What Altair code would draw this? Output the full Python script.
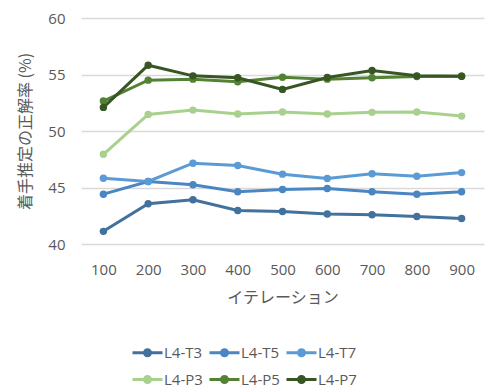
import altair as alt
import pandas as pd

iterations = [100, 200, 300, 400, 500, 600, 700, 800, 900]
series_names = ["L4-T3", "L4-T5", "L4-T7", "L4-P3", "L4-P5", "L4-P7"]
t3 = [41.12, 43.56, 43.91, 42.97, 42.88, 42.65, 42.59, 42.44, 42.26]
t5 = [44.41, 45.53, 45.24, 44.62, 44.82, 44.91, 44.62, 44.41, 44.62]
t7 = [45.82, 45.53, 47.15, 46.94, 46.18, 45.79, 46.21, 46.00, 46.32]
p3 = [47.94, 51.47, 51.85, 51.50, 51.68, 51.50, 51.65, 51.68, 51.32]
p5 = [52.65, 54.50, 54.59, 54.35, 54.76, 54.59, 54.71, 54.82, 54.85]
p7 = [52.09, 55.82, 54.88, 54.71, 53.68, 54.74, 55.35, 54.88, 54.85]
colors = ["#41719C", "#4A86C2", "#5B9BD5", "#A9D18E", "#548235", "#375623"]

rows = []
for name, vals in zip(series_names, [t3, t5, t7, p3, p5, p7]):
    for it, v in zip(iterations, vals):
        rows.append({"iter": str(it), "series": name, "value": v})
df = pd.DataFrame(rows)

font = "Noto Sans CJK JP"
sym = "M-1,0L1,0M-0.2,0A0.2,0.2,0,1,0,0.2,0A0.2,0.2,0,1,0,-0.2,0Z"

chart = alt.Chart(df).mark_line(
    strokeWidth=3,
    point=alt.OverlayMarkDef(filled=True, size=55, opacity=1),
).encode(
    x=alt.X("iter:O", sort=[str(i) for i in iterations], title="イテレーション",
            axis=alt.Axis(labelAngle=0, domain=False, ticks=False, labelPadding=18,
                          labelFontSize=15, labelColor="#595959", labelFont="Open Sans",
                          titleFontSize=16, titleFont=font, titleColor="#595959",
                          titleFontWeight="normal", titlePadding=12)),
    y=alt.Y("value:Q", scale=alt.Scale(domain=[40, 60], nice=False),
            title="着手推定の正解率 (%)",
            axis=alt.Axis(values=[40, 45, 50, 55, 60], domain=False, ticks=False,
                          gridColor="#d9d9d9", gridWidth=1.3, labelPadding=16,
                          labelFontSize=15, labelColor="#595959", labelFont="Open Sans",
                          titleFontSize=16, titleFont=font, titleColor="#595959",
                          titleFontWeight="normal", titlePadding=14)),
    color=alt.Color("series:N", sort=series_names,
                    scale=alt.Scale(domain=series_names, range=colors),
                    legend=alt.Legend(title=None, orient="none", legendX=50, legendY=318,
                                      direction="horizontal",
                                      columns=3, symbolType=sym, symbolSize=900,
                                      symbolStrokeWidth=3, labelFontSize=15,
                                      labelFont="Open Sans", labelColor="#595959",
                                      labelOffset=0, columnPadding=0, rowPadding=1)),
).properties(
    width=403, height=226,
    padding={"left": 81, "top": 18, "right": 4, "bottom": 146},
    autosize=alt.AutoSizeParams(type="none"),
).configure_view(stroke=None).configure_axis(gridColor="#d9d9d9")

chart.save("out.html", embed_options={"renderer": "svg", "actions": False})
